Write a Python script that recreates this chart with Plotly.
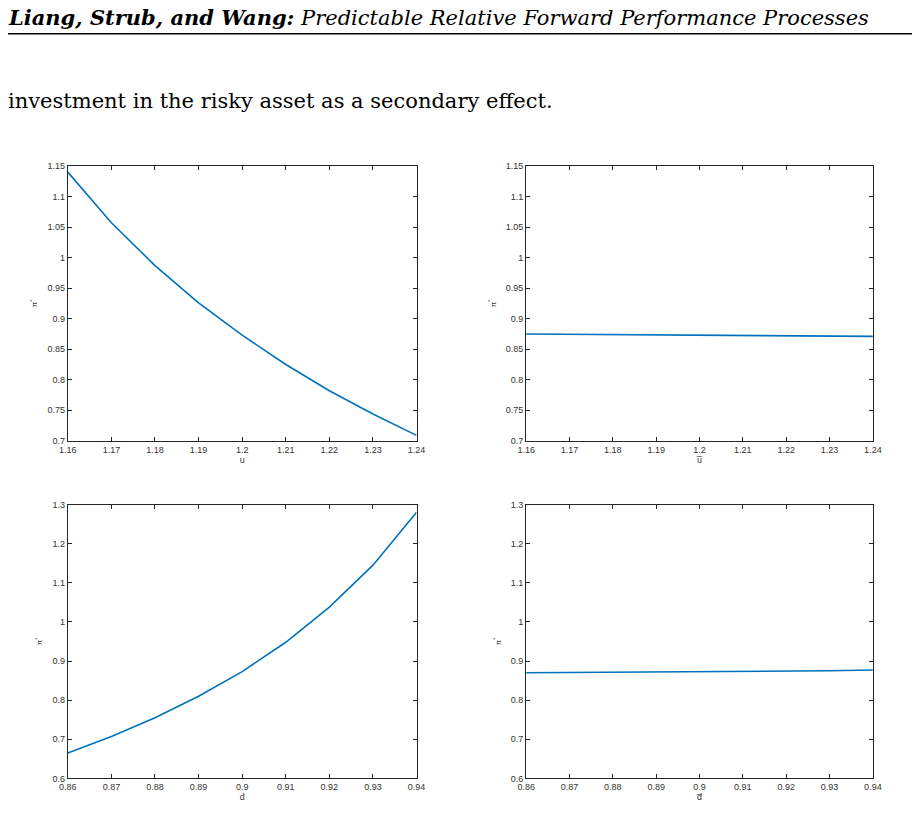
import plotly.graph_objects as go

# Parameter grids
u_vals = [1.16, 1.17, 1.18, 1.19, 1.20, 1.21, 1.22, 1.23, 1.24]
d_vals = [0.86, 0.87, 0.88, 0.89, 0.90, 0.91, 0.92, 0.93, 0.94]

# Optimal investment pi* for each sweep
pi_u = [1.140, 1.057, 0.987, 0.926, 0.873, 0.825, 0.782, 0.744, 0.709]
pi_ubar = [0.875, 0.8745, 0.874, 0.8735, 0.873, 0.8725, 0.872, 0.8715, 0.871]
pi_d = [0.665, 0.707, 0.755, 0.810, 0.873, 0.948, 1.038, 1.145, 1.280]
pi_dbar = [0.870, 0.8705, 0.871, 0.8715, 0.872, 0.873, 0.874, 0.875, 0.877]

u_ticks = [1.16, 1.17, 1.18, 1.19, 1.2, 1.21, 1.22, 1.23, 1.24]
u_ticktext = ["1.16", "1.17", "1.18", "1.19", "1.2", "1.21", "1.22", "1.23", "1.24"]
d_ticks = [0.86, 0.87, 0.88, 0.89, 0.9, 0.91, 0.92, 0.93, 0.94]
d_ticktext = ["0.86", "0.87", "0.88", "0.89", "0.9", "0.91", "0.92", "0.93", "0.94"]
top_yticks = [0.7, 0.75, 0.8, 0.85, 0.9, 0.95, 1, 1.05, 1.1, 1.15]
top_ytext = ["0.7", "0.75", "0.8", "0.85", "0.9", "0.95", "1", "1.05", "1.1", "1.15"]
bot_yticks = [0.6, 0.7, 0.8, 0.9, 1, 1.1, 1.2, 1.3]
bot_ytext = ["0.6", "0.7", "0.8", "0.9", "1", "1.1", "1.2", "1.3"]

W, H = 920, 813


# the page shot shifts/scales slightly, so map wanted pixels to layout pixels
def px_x(x):
    return (x - 14) / 0.984 / W


def px_y(y):
    return 1 - (y - 11.3) / 0.992 / H


xdom = [[px_x(65), px_x(415)], [px_x(525), px_x(873)]]
ydom = [[px_y(441), px_y(165)], [px_y(780), px_y(505)]]

panels = [
    (u_vals, pi_u, xdom[0], ydom[0], "u", u_ticks, u_ticktext, [1.16, 1.24], top_yticks, top_ytext, [0.7, 1.15]),
    (u_vals, pi_ubar, xdom[1], ydom[0], "u\u0305", u_ticks, u_ticktext, [1.16, 1.24], top_yticks, top_ytext, [0.7, 1.15]),
    (d_vals, pi_d, xdom[0], ydom[1], "d", d_ticks, d_ticktext, [0.86, 0.94], bot_yticks, bot_ytext, [0.6, 1.3]),
    (d_vals, pi_dbar, xdom[1], ydom[1], "d\u0305", d_ticks, d_ticktext, [0.86, 0.94], bot_yticks, bot_ytext, [0.6, 1.3]),
]

fig = go.Figure()
tickfont = dict(family="Liberation Sans", size=9, color="#333")
layout = {}
for i, (x, y, xd, yd, xlab, xt, xtt, xr, yt, ytt, yr) in enumerate(panels, start=1):
    sfx = "" if i == 1 else str(i)
    fig.add_trace(go.Scatter(x=x, y=y, mode="lines", line=dict(color="#0072BD", width=1.6),
                             xaxis="x" + sfx, yaxis="y" + sfx, showlegend=False))
    common = dict(showgrid=False, zeroline=False, showline=True, linecolor="#262626",
                  linewidth=1, mirror="ticks", ticks="inside", ticklen=4, tickcolor="#262626",
                  tickfont=tickfont)
    layout["xaxis" + sfx] = dict(domain=xd, range=xr, tickvals=xt, ticktext=xtt, anchor="y" + sfx,
                                 title=dict(text=xlab, font=dict(family="Liberation Sans", size=9, color="#333"),
                                            standoff=2), **common)
    layout["yaxis" + sfx] = dict(domain=yd, range=yr, tickvals=yt, ticktext=ytt, anchor="x" + sfx,
                                 title=dict(text="π<sup>*</sup>", font=dict(family="Liberation Sans", size=8, color="#333"),
                                            standoff=8), **common)

fig.update_layout(**layout)
fig.update_layout(
    width=W, height=H, margin=dict(l=0, r=0, t=0, b=0),
    paper_bgcolor="white", plot_bgcolor="white",
    annotations=[
        dict(text="<b><i>Liang, Strub, and Wang:</i></b> <i>Predictable Relative Forward Performance Processes</i>",
             x=-11 / W, y=1 - 5 / H, xref="paper", yref="paper", xanchor="left", yanchor="middle",
             showarrow=False, font=dict(family="DejaVu Serif", size=21, color="black")),
        dict(text="investment in the risky asset as a secondary effect.",
             x=-11 / W, y=1 - 89 / H, xref="paper", yref="paper", xanchor="left", yanchor="middle",
             showarrow=False, font=dict(family="DejaVu Serif", size=21, color="black")),
    ],
    shapes=[dict(type="line", xref="paper", yref="paper", x0=-17 / W, x1=917 / W,
                 y0=1 - 21 / H, y1=1 - 21 / H, line=dict(color="black", width=1.5))],
)

fig.write_html("out.html")
